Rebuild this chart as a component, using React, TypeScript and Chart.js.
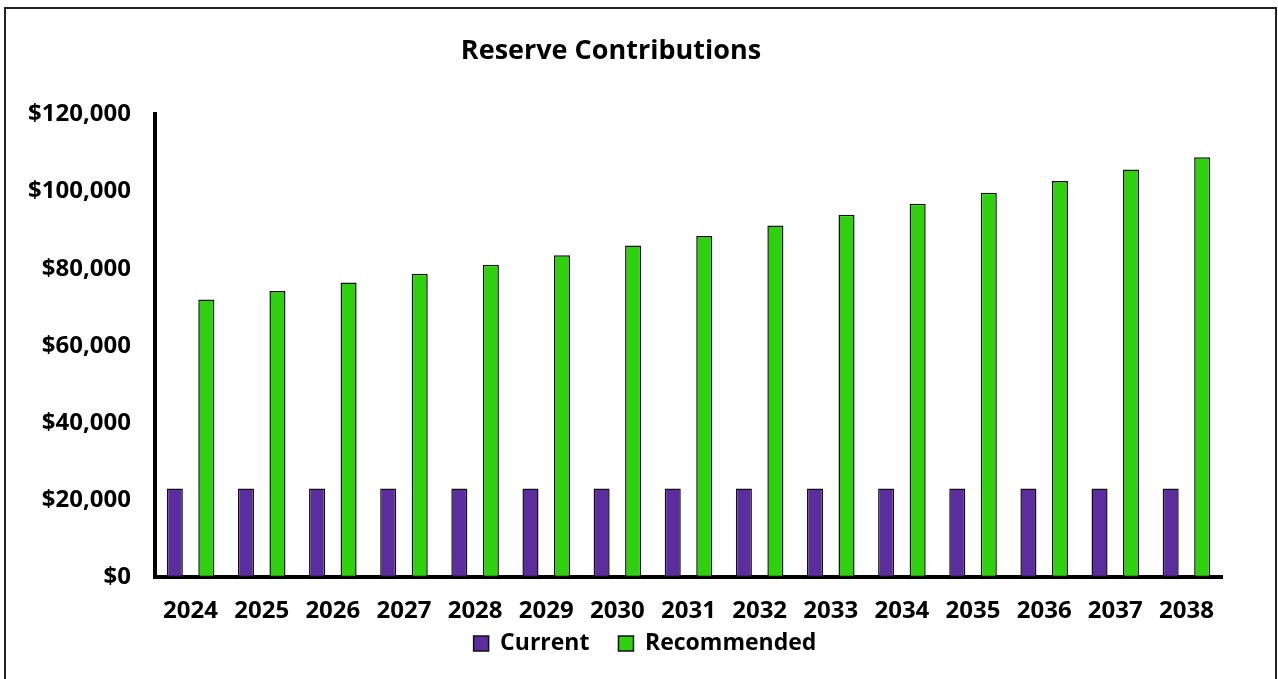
import React, { useEffect, useRef } from "react";
import { Chart, registerables } from "chart.js";

Chart.register(...registerables);

const years = ["2024", "2025", "2026", "2027", "2028", "2029", "2030", "2031", "2032", "2033", "2034", "2035", "2036", "2037", "2038"];
const currentValues = [23000, 23000, 23000, 23000, 23000, 23000, 23000, 23000, 23000, 23000, 23000, 23000, 23000, 23000, 23000];
const recommendedValues = [72000, 74200, 76400, 78700, 81000, 83500, 86000, 88500, 91200, 94000, 96800, 99700, 102700, 105700, 108900];
const yTicks = [0, 20000, 40000, 60000, 80000, 100000, 120000];

const FONT = "'Open Sans', sans-serif";
const X_SHRINK = 43;
const LEGEND_SHIFT = 34;

const frame = {
  id: "frame",
  afterLayout(chart: any) {
    const x = chart.scales.x;
    if (x) {
      x.bottom += X_SHRINK;
      x.height += X_SHRINK;
    }
    const lg = chart.legend;
    if (lg) {
      lg.left += LEGEND_SHIFT;
      lg.right += LEGEND_SHIFT;
    }
  },
  afterDraw(chart: any) {
    const ctx = chart.ctx;
    ctx.save();
    ctx.strokeStyle = "#222";
    ctx.lineWidth = 2;
    ctx.strokeRect(5, 8, 1271, 675);
    ctx.restore();
  },
};

export default function App() {
  const ref = useRef<HTMLCanvasElement | null>(null);
  useEffect(() => {
    if (!ref.current) return;
    const chart = new Chart(ref.current, {
      type: "bar",
      data: {
        labels: years,
        datasets: [
          {
            label: "Current",
            data: currentValues,
            backgroundColor: "#5C2D9E",
            borderColor: "#111",
            borderWidth: 1.5,
            borderSkipped: false,
            categoryPercentage: 0.886,
            barPercentage: 0.51,
          },
          {
            label: "Recommended",
            data: recommendedValues,
            backgroundColor: "#2FD00E",
            borderColor: "#111",
            borderWidth: 1.5,
            borderSkipped: false,
            categoryPercentage: 0.886,
            barPercentage: 0.51,
          },
        ],
      },
      options: {
        responsive: false,
        animation: false,
        layout: { padding: { left: 0, right: 56, top: 0, bottom: 14 } },
        plugins: {
          title: {
            display: true,
            text: "Reserve Contributions",
            color: "#000",
            font: { family: FONT, size: 27, weight: "bold" },
            padding: { top: 35, bottom: 47 },
          },
          legend: {
            position: "bottom",
            labels: {
              color: "#000",
              boxWidth: 15,
              boxHeight: 15,
              padding: 29,
              font: { family: FONT, size: 23, weight: "bold" },
            },
          },
          tooltip: { enabled: false },
        },
        scales: {
          x: {
            grid: { display: false, drawTicks: false },
            border: { display: true, width: 4, color: "#000" },
            afterFit: (s: any) => {
              s.height = s.height - X_SHRINK;
            },
            ticks: { color: "#000", padding: 20, font: { family: FONT, size: 24, weight: "bold" } },
          },
          y: {
            min: 0,
            max: 120000,
            afterBuildTicks: (s: any) => {
              s.ticks = yTicks.map((v) => ({ value: v }));
            },
            afterFit: (s: any) => {
              s.width = 155;
            },
            grid: { display: false, drawTicks: false },
            border: { display: true, width: 4, color: "#000" },
            ticks: {
              color: "#000",
              padding: 24,
              font: { family: FONT, size: 24, weight: "bold" },
              callback: (v: any) => "$" + Number(v).toLocaleString("en-US"),
            },
          },
        },
      },
      plugins: [frame],
    });
    return () => chart.destroy();
  }, []);
  return (
    <div style={{ position: "absolute", left: 0, top: 0, width: 1278, height: 679, background: "#fff" }}>
      <canvas ref={ref} width={1278} height={679} style={{ display: "block" }} />
    </div>
  );
}
